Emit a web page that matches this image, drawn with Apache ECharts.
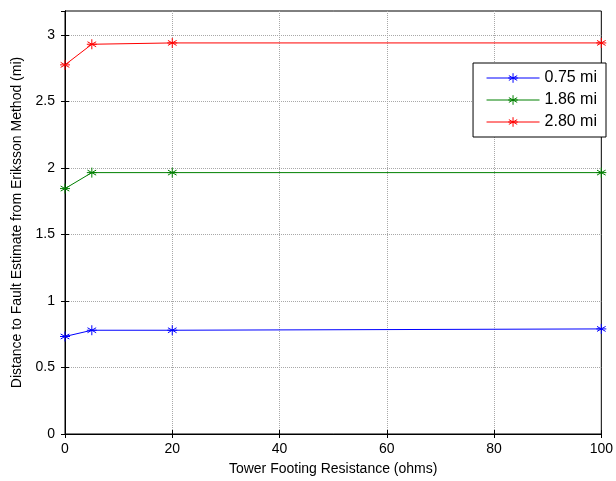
<!DOCTYPE html>
<html><head><meta charset="utf-8">
<script src="https://cdn.jsdelivr.net/npm/echarts@6/dist/echarts.min.js"></script>
<style>html,body{margin:0;padding:0;background:#fff}#c{width:616px;height:481px}</style>
</head><body><div id="c"></div>
<script>
const xValues = [0, 5, 20, 100];
const s075 = [0.733, 0.78, 0.78, 0.79];
const s186 = [1.845, 1.965, 1.965, 1.965];
const s280 = [2.775, 2.93, 2.94, 2.94];
const seriesNames = ['0.75 mi', '1.86 mi', '2.80 mi'];
const seriesColors = ['#0000ff', '#008000', '#ff0000'];
const xTitle = 'Tower Footing Resistance (ohms)';
const yTitle = 'Distance to Fault Estimate from Eriksson Method (mi)';

const star = 'path://M0,-5L0,5M-4.33,-2.5L4.33,2.5M-4.33,2.5L4.33,-2.5M-5,0L5,0';
const font = 'Liberation Sans, Arial, sans-serif';
const chart = echarts.init(document.getElementById('c'));
const allData = [s075, s186, s280];
const axCommon = {
  axisLine: {show: true, lineStyle: {color: '#000', width: 1}},
  axisTick: {show: true, inside: true, length: 4, lineStyle: {color: '#000'}},
};
const split = {show: true, showMinLine: false, showMaxLine: false,
               lineStyle: {color: '#a8a8a8', width: 1, type: 'dotted'}};
chart.setOption({
  animation: false,
  backgroundColor: '#fff',
  grid: {left: 65, top: 11, right: 14, bottom: 46, containLabel: false,
         show: true, borderColor: '#000', borderWidth: 1},
  legend: {
    right: 10, top: 63, orient: 'vertical',
    backgroundColor: '#fff', borderColor: '#000', borderWidth: 1,
    padding: [7, 9, 7, 13], itemGap: 6, itemWidth: 53, itemHeight: 12,
    lineStyle: {width: 1},
    itemStyle: {borderWidth: 1, color: 'transparent'},
    textStyle: {fontFamily: font, fontSize: 16, color: '#000'},
    data: seriesNames
  },
  xAxis: [{
    type: 'value', min: 0, max: 100, interval: 20,
    ...axCommon,
    axisLabel: {fontFamily: font, fontSize: 14, color: '#000', margin: 8},
    splitLine: split,
    name: xTitle, nameLocation: 'middle', nameGap: 28,
    nameTextStyle: {fontFamily: font, fontSize: 14, color: '#000'}
  }, {
    type: 'value', min: 0, max: 100, interval: 20, position: 'top',
    ...axCommon, axisLabel: {show: false}, splitLine: {show: false}
  }],
  yAxis: [{
    type: 'value', min: 0, max: 3.18, interval: 0.5,
    ...axCommon,
    axisLabel: {fontFamily: font, fontSize: 14, color: '#000', margin: 10,
                showMaxLabel: false},
    splitLine: split,
    name: yTitle, nameLocation: 'middle', nameGap: 40,
    nameTextStyle: {fontFamily: font, fontSize: 14, color: '#000'}
  }, {
    type: 'value', min: 0, max: 3.18, interval: 0.5, position: 'right',
    ...axCommon, axisLabel: {show: false}, splitLine: {show: false}
  }],
  series: seriesNames.map((n, i) => ({
    name: n, type: 'line', xAxisIndex: 0, yAxisIndex: 0,
    data: xValues.map((x, j) => [x, allData[i][j]]),
    symbol: star, symbolSize: 10, showAllSymbol: true,
    lineStyle: {color: seriesColors[i], width: 1},
    itemStyle: {color: 'transparent', borderColor: seriesColors[i], borderWidth: 1},
    emphasis: {disabled: true}
  }))
});
</script></body></html>
